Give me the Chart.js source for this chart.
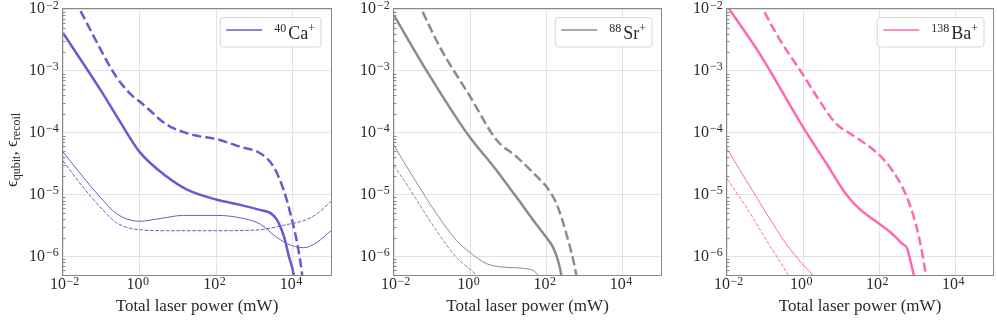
<!DOCTYPE html>
<html><head><meta charset="utf-8">
<script src="https://cdn.jsdelivr.net/npm/chart.js@4.4.1/dist/chart.umd.min.js"></script>
<style>
html,body{margin:0;padding:0;background:#fff;width:997px;height:320px;overflow:hidden;}
.p{position:absolute;top:0;height:320px;}
</style></head><body>
<div class="p" style="left:0;width:336px"><canvas id="c0" width="336" height="320"></canvas></div>
<div class="p" style="left:335px;width:331px"><canvas id="c1" width="331" height="320"></canvas></div>
<div class="p" style="left:668px;width:329px"><canvas id="c2" width="329" height="320"></canvas></div>
<script>
// ---- tick values and labels (base 10 with exponent) ----
const xTickValues = [1e-2, 1e0, 1e2, 1e4];
const xTickExponents = ['−2', '0', '2', '4'];
const yTickValues = [1e-6, 1e-5, 1e-4, 1e-3, 1e-2];
const yTickExponents = ['−6', '−5', '−4', '−3', '−2'];
const tickBase = '10';
const xAxisTitle = 'Total laser power (mW)';
const yAxisTitleParts = ['ϵ', 'qubit', ', ϵ', 'recoil'];
const ionLabels = [['40', 'Ca', '+'], ['88', 'Sr', '+'], ['138', 'Ba', '+']];

// ---- 40Ca+ ----
const caThickSolidX = [0.01, 0.1, 0.3, 1, 5.1, 17.4, 100, 427, 1445, 2630, 3890, 5888, 7943, 10715, 13183];
const caThickSolidY = [4.1e-3, 4.7e-4, 1.55e-4, 4.9e-5, 1.95e-5, 1.2e-5, 8.3e-6, 6.8e-6, 5.6e-6, 5.0e-6, 3.9e-6, 2.1e-6, 1.0e-6, 4.9e-7, 1.6e-7];
const caThickDashX = [0.01, 0.026, 0.05, 0.093, 0.158, 0.25, 0.4, 0.63, 1, 2, 4, 7.9, 15.8, 31.6, 100, 427, 1445, 3236, 5888, 8710, 13183, 17783, 19953];
const caThickDashY = [3.5e-2, 1.05e-2, 4.8e-3, 2.3e-3, 1.26e-3, 7.9e-4, 5.4e-4, 4.0e-4, 3.2e-4, 2.2e-4, 1.5e-4, 1.17e-4, 1.0e-4, 8.9e-5, 7.9e-5, 5.9e-5, 4.6e-5, 2.75e-5, 1.15e-5, 4.9e-6, 1.6e-6, 4.9e-7, 2.5e-7];
const caThinSolidX = [0.01, 0.034, 0.093, 0.25, 1, 3.5, 14, 100, 427, 1445, 3236, 7244, 19500, 43650, 100000];
const caThinSolidY = [4.9e-5, 1.9e-5, 9.1e-6, 4.9e-6, 3.7e-6, 4.1e-6, 4.6e-6, 4.6e-6, 4.2e-6, 3.3e-6, 2.2e-6, 1.6e-6, 1.38e-6, 1.7e-6, 2.6e-6];
const caThinDashX = [0.01, 0.034, 0.093, 0.25, 1, 5.1, 100, 1445, 5888, 19500, 43650, 100000];
const caThinDashY = [3.5e-5, 1.3e-5, 6.3e-6, 3.5e-6, 2.7e-6, 2.6e-6, 2.6e-6, 2.7e-6, 3.2e-6, 3.8e-6, 4.9e-6, 7.8e-6];

// ---- 88Sr+ ----
const srThickSolidX = [0.01, 0.072, 0.8, 4.9, 16.2, 53.7, 100, 148, 200, 245, 282];
const srThickSolidY = [7.9e-3, 1.0e-3, 1.0e-4, 2.45e-5, 9.1e-6, 3.3e-6, 2.0e-6, 1.4e-6, 8.5e-7, 4.9e-7, 2.5e-7];
const srThickDashX = [0.04, 0.052, 0.158, 1, 4.9, 16.2, 53.7, 110, 182, 331, 603, 700];
const srThickDashY = [1.4e-2, 1.0e-2, 2.45e-3, 3.8e-4, 7.6e-5, 4.1e-5, 2.0e-5, 1.23e-5, 7.1e-6, 2.3e-6, 4.9e-7, 2.5e-7];
const srThinSolidX = [0.01, 0.032, 0.13, 0.44, 1, 2.7, 11, 29.5, 60, 80];
const srThinSolidY = [6.2e-5, 1.9e-5, 4.9e-6, 1.8e-6, 1.15e-6, 7.6e-7, 6.6e-7, 6.3e-7, 4.9e-7, 3.0e-7];
const srThinDashX = [0.01, 0.032, 0.13, 0.44, 1.45, 2.5];
const srThinDashY = [2.95e-5, 1.0e-5, 2.6e-6, 9.5e-7, 4.9e-7, 3.0e-7];

// ---- 138Ba+ ----
const baThickSolidX = [0.01, 0.072, 1, 4.1, 13.5, 30, 93, 224, 400, 562, 620, 700, 832, 950];
const baThickSolidY = [1.12e-2, 1.9e-3, 1.23e-4, 3.2e-5, 1.02e-5, 5.9e-6, 3.5e-6, 2.3e-6, 1.62e-6, 1.32e-6, 1.03e-6, 7.6e-7, 4.9e-7, 3.5e-7];
const baThickDashX = [0.07, 0.089, 0.245, 0.95, 2.7, 7.4, 20.4, 93, 224, 500, 933, 1380, 1700, 1900];
const baThickDashY = [1.4e-2, 1.0e-2, 3.2e-3, 9.1e-4, 3.3e-4, 1.4e-4, 9.1e-5, 4.6e-5, 2.45e-5, 1.02e-5, 3.3e-6, 1.1e-6, 4.9e-7, 2.5e-7];
const baThinSolidX = [0.01, 0.032, 0.11, 0.36, 0.95, 1.8, 2.5];
const baThinSolidY = [5.5e-5, 1.7e-5, 4.9e-6, 1.6e-6, 7.6e-7, 4.9e-7, 3.2e-7];
const baThinDashX = [0.01, 0.032, 0.11, 0.41, 0.6];
const baThinDashY = [1.8e-5, 6.3e-6, 1.8e-6, 4.9e-7, 3.0e-7];

const ionColors = ['#6a5acd', '#8c8c8c', '#ff69b4'];

const SERIF = '"Liberation Serif", "DejaVu Serif", serif';
const TEXT = '#2a2a2a';
const X_LABEL_OFFSET = -5;
const Y_TICK_PAD = 18;

function ds(xs, ys, color, width, dash) {
  return {
    data: xs.map((x, i) => ({x: x, y: ys[i]})),
    borderColor: color, borderWidth: width, borderDash: dash,
    pointRadius: 0, pointHoverRadius: 0, fill: false, clip: 0,
    cubicInterpolationMode: 'monotone', borderJoinStyle: 'round'
  };
}

const decor = {
  id: 'decor',
  afterDraw(chart, args, opts) {
    const ctx = chart.ctx, ca = chart.chartArea, ys = chart.scales.y, xs = chart.scales.x;
    ctx.save();
    // minor ticks on y
    ctx.strokeStyle = '#888'; ctx.lineWidth = 1;
    for (let d = -7; d <= -3; d++) {
      for (let k = 2; k <= 9; k++) {
        const v = k * Math.pow(10, d);
        if (v < ys.min || v > ys.max) continue;
        const py = Math.round(ys.getPixelForValue(v)) + 0.5;
        ctx.beginPath(); ctx.moveTo(ca.left, py); ctx.lineTo(ca.left + 2.5, py); ctx.stroke();
      }
    }
    // spines
    ctx.strokeStyle = '#888'; ctx.lineWidth = 1;
    ctx.strokeRect(Math.round(ca.left) - 0.5, Math.round(ca.top) - 0.5, Math.round(ca.right - ca.left) + 1, Math.round(ca.bottom - ca.top) + 1);
    // tick exponents
    ctx.fillStyle = TEXT; ctx.textBaseline = 'alphabetic'; ctx.textAlign = 'left';
    ctx.font = '16px ' + SERIF; const wBase = ctx.measureText(tickBase).width;
    ctx.font = '12px ' + SERIF;
    xTickValues.forEach((v, i) => {
      const px = xs.getPixelForValue(v) + X_LABEL_OFFSET + wBase / 2 + 0.5;
      ctx.fillText(xTickExponents[i], px, ca.bottom + 9.5);
    });
    yTickValues.forEach((v, i) => {
      const py = ys.getPixelForValue(v);
      ctx.fillText(yTickExponents[i], ca.left - Y_TICK_PAD + 1, py - 0.5);
    });
    // legend
    const lab = opts.label, color = opts.color;
    const fBig = '18px ' + SERIF, fSm = '12px ' + SERIF;
    ctx.font = fSm; const w1 = ctx.measureText(lab[0]).width, w3 = ctx.measureText(lab[2]).width;
    ctx.font = fBig; const w2 = ctx.measureText(lab[1]).width;
    const textW = w1 + 2 + w2 + w3;
    const bRight = ca.right - opts.legendRight;
    const bW = 6 + 36 + 12 + textW + 6;
    const bLeft = bRight - bW, bTop = ca.top + 8.5, bH = 29.5;
    ctx.fillStyle = 'rgba(255,255,255,0.8)';
    ctx.strokeStyle = '#d6d6d6';
    ctx.beginPath();
    if (ctx.roundRect) ctx.roundRect(bLeft, bTop, bW, bH, 3); else ctx.rect(bLeft, bTop, bW, bH);
    ctx.fill(); ctx.stroke();
    ctx.strokeStyle = color; ctx.lineWidth = 1.5; ctx.setLineDash([]);
    ctx.beginPath(); ctx.moveTo(bLeft + 6, bTop + 12.5); ctx.lineTo(bLeft + 42, bTop + 12.5); ctx.stroke();
    ctx.fillStyle = TEXT;
    let tx = bLeft + 54; const base = bTop + 21.5;
    ctx.font = fSm; ctx.fillText(lab[0], tx, base - 7); tx += w1 + 2;
    ctx.font = fBig; ctx.fillText(lab[1], tx, base); tx += w2;
    ctx.font = fSm; ctx.fillText(lab[2], tx, base - 7);
    // y title
    if (opts.yTitle) {
      ctx.translate(13, 150); ctx.rotate(-Math.PI / 2);
      const fonts = ['17px ', '12px ', '17px ', '12px '], offs = [0, 4, 0, 4];
      const ws = yAxisTitleParts.map((t, i) => { ctx.font = fonts[i] + SERIF; return ctx.measureText(t).width; });
      let px = -ws.reduce((a, b) => a + b, 0) / 2;
      ctx.textBaseline = 'middle';
      yAxisTitleParts.forEach((t, i) => { ctx.font = fonts[i] + SERIF; ctx.fillText(t, px, offs[i]); px += ws[i]; });
    }
    ctx.restore();
  }
};

function makeChart(id, datasets, yWidth, padRight, ion, legendRight, yTitle) {
  return new Chart(document.getElementById(id), {
    type: 'line',
    data: {datasets: datasets},
    plugins: [decor],
    options: {
      responsive: false, animation: false, devicePixelRatio: 1,
      layout: {padding: {left: 0, right: padRight, top: 9, bottom: 0}},
      plugins: {legend: {display: false}, tooltip: {enabled: false},
        decor: {label: ionLabels[ion], color: ionColors[ion], legendRight: legendRight, yTitle: yTitle}},
      scales: {
        x: {
          type: 'logarithmic', min: 1e-2, max: 1e5,
          afterBuildTicks: s => { s.ticks = xTickValues.map(v => ({value: v})); },
          afterFit: s => { s.height = 45; s.paddingLeft = 0; s.paddingRight = 0; },
          ticks: {callback: () => tickBase, font: {family: SERIF, size: 16}, color: TEXT, padding: 0, labelOffset: X_LABEL_OFFSET, maxRotation: 0, autoSkip: false},
          grid: {color: '#e3e3e3', drawTicks: false},
          border: {display: false},
          title: {display: true, text: xAxisTitle, font: {family: SERIF, size: 17}, color: TEXT, padding: {top: 0, bottom: 3}}
        },
        y: {
          type: 'logarithmic', min: 5e-7, max: 1e-2,
          afterBuildTicks: s => { s.ticks = yTickValues.map(v => ({value: v})); },
          afterFit: s => { s.width = yWidth; s.paddingTop = 0; s.paddingBottom = 0; },
          ticks: {callback: () => tickBase, font: {family: SERIF, size: 16}, color: TEXT, padding: Y_TICK_PAD, autoSkip: false},
          grid: {color: '#e3e3e3', drawTicks: false},
          border: {display: false}
        }
      }
    }
  });
}

const c0 = ionColors[0], c1 = ionColors[1], c2 = ionColors[2];
makeChart('c0', [
  ds(caThickSolidX, caThickSolidY, c0, 2.5, []),
  ds(caThickDashX, caThickDashY, c0, 2.5, [9.25, 4]),
  ds(caThinSolidX, caThinSolidY, c0, 1, []),
  ds(caThinDashX, caThinDashY, c0, 1, [3.7, 1.6])
], 63, 5, 0, 10, true);
makeChart('c1', [
  ds(srThickSolidX, srThickSolidY, c1, 2.5, []),
  ds(srThickDashX, srThickDashY, c1, 2.5, [9.25, 4]),
  ds(srThinSolidX, srThinSolidY, c1, 1, []),
  ds(srThinDashX, srThinDashY, c1, 1, [3.7, 1.6])
], 59, 5, 1, 9, false);
makeChart('c2', [
  ds(baThickSolidX, baThickSolidY, c2, 2.5, []),
  ds(baThickDashX, baThickDashY, c2, 2.5, [9.25, 4]),
  ds(baThinSolidX, baThinSolidY, c2, 1, []),
  ds(baThinDashX, baThinDashY, c2, 1, [3.7, 1.6])
], 59, 4, 2, 9, false);
</script>
</body></html>
